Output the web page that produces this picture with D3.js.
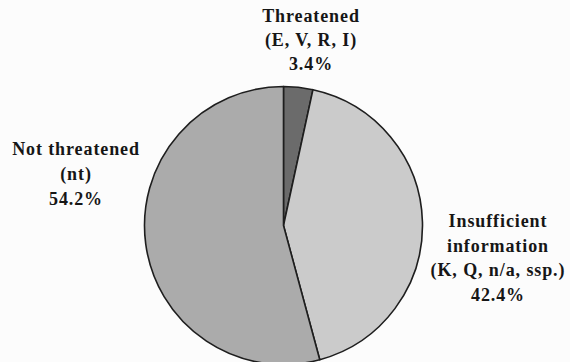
<!DOCTYPE html>
<html>
<head>
<meta charset="utf-8">
<script src="https://cdn.jsdelivr.net/npm/d3@7"></script>
<style>
  html, body { margin: 0; padding: 0; background: #fcfcfc; }
  svg { display: block; }
  text { font-family: "Liberation Serif", "Times New Roman", serif; font-weight: bold; font-size: 18px; fill: #161616; letter-spacing: 0.9px; }
</style>
</head>
<body>
<svg id="chart" width="570" height="362"></svg>
<script>
// Conservation status shares (percent), clockwise from 12 o'clock
const categories = ["Threatened", "Insufficient information", "Not threatened"];
const values = [3.4, 42.4, 54.2];
const sliceColors = ["#6b6b6b", "#cbcbcb", "#ababab"];

// Label text lines for each category
const labelLines = [
  ["Threatened", "(E, V, R, I)", "3.4%"],
  ["Insufficient", "information", "(K, Q, n/a, ssp.)", "42.4%"],
  ["Not threatened", "(nt)", "54.2%"]
];

const width = 570, height = 362;
const cx = 283.5, cy = 225.5, radius = 139;

const svg = d3.select("#chart");

const pie = d3.pie().sort(null).value(d => d);
const arc = d3.arc().innerRadius(0).outerRadius(radius);

const g = svg.append("g").attr("transform", `translate(${cx},${cy})`);

g.selectAll("path.slice")
  .data(pie(values))
  .join("path")
  .attr("class", "slice")
  .attr("d", arc)
  .attr("fill", (d, i) => sliceColors[i])
  .attr("stroke", "#1e1e1e")
  .attr("stroke-width", 1.6)
  .attr("stroke-linejoin", "round");

// Label blocks: anchor x and first baseline, line height
const labelPos = [
  { x: 311, y: 21.5, lh: 24 },
  { x: 498, y: 227, lh: 24.7 },
  { x: 76, y: 155, lh: 24.8 }
];

labelLines.forEach((lines, i) => {
  const t = svg.append("text")
    .attr("text-anchor", "middle")
    .attr("x", labelPos[i].x)
    .attr("y", labelPos[i].y);
  lines.forEach((ln, j) => {
    t.append("tspan")
      .attr("x", labelPos[i].x)
      .attr("y", labelPos[i].y + j * labelPos[i].lh)
      .text(ln);
  });
});
</script>
</body>
</html>
